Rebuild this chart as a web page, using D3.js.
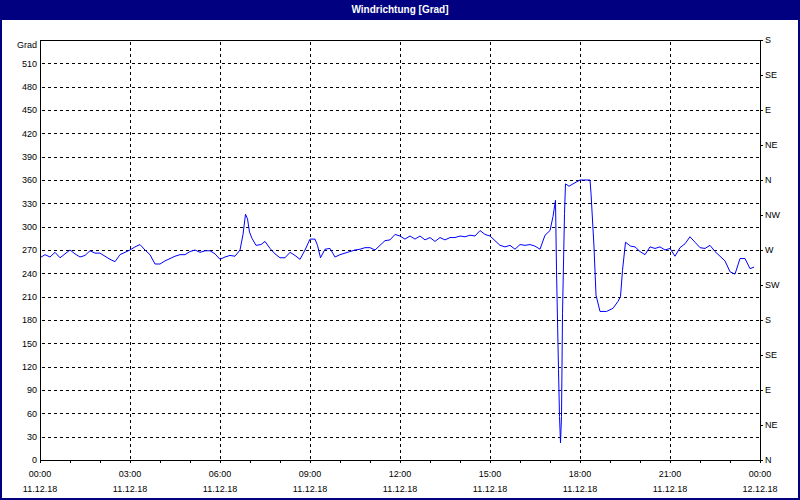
<!DOCTYPE html>
<html>
<head>
<meta charset="utf-8">
<script src="https://cdn.jsdelivr.net/npm/d3@7"></script>
<style>
  body { margin: 0; background: #fff; }
  svg text { font-family: "Liberation Sans", Arial, sans-serif; font-size: 9px; fill: #000; }
</style>
</head>
<body>
<div id="chart"></div>
<script>
// wind direction readings, minutes after 00:00 on 11.12.18
var minutes = [
  0, 10, 20, 30, 40, 50, 60, 70, 80, 90, 100, 110, 120, 130, 140, 150, 160, 170,
  180, 190, 200, 210, 220, 230, 240, 250, 260, 270, 280, 290, 300, 310, 320, 330,
  340, 350, 360, 370, 380, 390, 400, 406, 411, 415, 419, 424, 432, 442, 450, 460,
  470, 480, 490, 500, 510, 520, 530, 540, 550, 555, 561, 570, 580, 590, 600, 610,
  620, 630, 640, 650, 660, 670, 680, 690, 700, 710, 720, 730, 740, 750, 760, 770,
  780, 790, 800, 810, 820, 830, 840, 850, 860, 870, 880, 890, 900, 910, 920, 930,
  940, 950, 960, 970, 980, 990, 1000, 1010, 1020, 1026, 1031, 1033, 1037, 1039,
  1041, 1043, 1045, 1049, 1051, 1058, 1066, 1080, 1100, 1102, 1108, 1112, 1120,
  1133, 1146, 1156, 1161, 1165, 1171, 1181, 1190, 1200, 1210, 1220, 1230, 1240,
  1250, 1260, 1270, 1280, 1290, 1300, 1310, 1320, 1330, 1340, 1350, 1360, 1370,
  1380, 1390, 1400, 1410, 1420, 1428
];
var degrees = [
  260, 264, 261, 267, 260, 265, 270, 265, 261, 263, 269, 266, 266, 262, 258, 255, 264, 267,
  270, 274, 277, 270, 264, 252, 252, 256, 259, 262, 264, 264, 268, 270, 267, 269,
  269, 265, 258, 261, 263, 262, 270, 290, 316, 310, 293, 285, 276, 277, 281, 272,
  265, 260, 260, 267, 263, 258, 270, 284, 284, 276, 260, 271, 272, 261, 264, 266,
  268, 270, 271, 273, 273, 270, 276, 282, 283, 290, 288, 284, 288, 284, 288, 283,
  286, 281, 286, 283, 286, 286, 288, 287, 289, 288, 295, 290, 288, 282, 276, 274,
  276, 271, 277, 276, 277, 275, 271, 289, 295, 313, 334, 244, 116, 56,
  22, 56, 188, 317, 355, 352, 355, 360, 360, 343, 274, 212, 191,
  191, 195, 204, 210, 244, 280, 275, 274, 268, 264, 274, 272, 274,
  270, 272, 262, 273, 278, 287, 280, 273, 272, 276, 268, 262, 256,
  242, 239, 259, 259, 246, 248
];

// axis labels
var gradTicks = [0, 30, 60, 90, 120, 150, 180, 210, 240, 270, 300, 330, 360, 390, 420, 450, 480, 510];
var compassValues = [0, 45, 90, 135, 180, 225, 270, 315, 360, 405, 450, 495, 540];
var compassLabels = ["N", "NE", "E", "SE", "S", "SW", "W", "NW", "N", "NE", "E", "SE", "S"];
var timeTicks = [0, 180, 360, 540, 720, 900, 1080, 1260, 1440];
var timeLabels = ["00:00", "03:00", "06:00", "09:00", "12:00", "15:00", "18:00", "21:00", "00:00"];
var dateLabels = ["11.12.18", "11.12.18", "11.12.18", "11.12.18", "11.12.18", "11.12.18", "11.12.18", "11.12.18", "12.12.18"];

var W = 800, H = 500;
// plot frame (note: "top" is reserved on window, so use prefixed names)
var plotL = 40, plotR = 760, plotT = 40, plotB = 460;

var x = d3.scaleLinear().domain([0, 1440]).range([plotL, plotR]);
var y = d3.scaleLinear().domain([0, 540]).range([plotB, plotT]);

var svg = d3.select("#chart").append("svg")
  .attr("width", W)
  .attr("height", H);

svg.append("rect").attr("width", W).attr("height", H).attr("fill", "#fff");

// title bar
svg.append("rect")
  .attr("x", 0).attr("y", 0)
  .attr("width", W).attr("height", 20)
  .attr("fill", "#000080");
svg.append("text")
  .attr("x", W / 2).attr("y", 13)
  .attr("text-anchor", "middle")
  .style("font-size", "10px")
  .style("font-weight", "bold")
  .style("fill", "#fff")
  .text("Windrichtung [Grad]");

// window frame
svg.append("rect")
  .attr("x", 1).attr("y", 1)
  .attr("width", W - 2).attr("height", H - 2)
  .attr("fill", "none")
  .attr("stroke", "#000080")
  .attr("stroke-width", 2);

// dashed grid
var grid = svg.append("g")
  .attr("stroke", "#000")
  .attr("stroke-dasharray", "3,3")
  .attr("shape-rendering", "crispEdges");
grid.selectAll(".hgrid")
  .data(gradTicks.filter(function(d) { return d > 0; }))
  .enter().append("line")
    .attr("x1", plotL + 2).attr("x2", plotR)
    .attr("y1", function(d) { return Math.round(y(d)) + 0.5; })
    .attr("y2", function(d) { return Math.round(y(d)) + 0.5; });
grid.selectAll(".vgrid")
  .data(timeTicks.slice(1, -1))
  .enter().append("line")
    .attr("y1", plotT + 2).attr("y2", plotB)
    .attr("x1", function(d) { return Math.round(x(d)) + 0.5; })
    .attr("x2", function(d) { return Math.round(x(d)) + 0.5; });

// the wind direction line
var valueline = d3.line()
  .x(function(d) { return x(d[0]); })
  .y(function(d) { return y(d[1]); });
var data = minutes.map(function(m, i) { return [m, degrees[i]]; });
svg.append("path")
  .datum(data)
  .attr("fill", "none")
  .attr("stroke", "#0000ff")
  .attr("stroke-width", 1)
  .attr("d", valueline);

// top border
svg.append("line")
  .attr("x1", plotL).attr("x2", plotR + 1)
  .attr("y1", plotT + 0.5).attr("y2", plotT + 0.5)
  .attr("stroke", "#000")
  .attr("shape-rendering", "crispEdges");

// left axis (degrees)
svg.append("g")
  .attr("transform", "translate(" + plotL + ",0)")
  .attr("shape-rendering", "crispEdges")
  .call(d3.axisLeft(y).tickValues(gradTicks).tickSize(0).tickPadding(3).tickSizeOuter(0));

svg.append("text")
  .attr("x", 37).attr("y", 48)
  .attr("text-anchor", "end")
  .text("Grad");

// right axis (compass)
svg.append("g")
  .attr("transform", "translate(" + plotR + ",0)")
  .attr("shape-rendering", "crispEdges")
  .call(d3.axisRight(y).tickValues(compassValues)
    .tickFormat(function(d, i) { return compassLabels[i]; })
    .tickSize(3).tickPadding(2).tickSizeOuter(0));

// bottom axis, a tick every hour
svg.append("g")
  .attr("transform", "translate(0," + plotB + ")")
  .attr("shape-rendering", "crispEdges")
  .call(d3.axisBottom(x).tickValues(d3.range(0, 1441, 60)).tickSize(3).tickFormat("").tickSizeOuter(0));

var xl = svg.append("g").attr("text-anchor", "middle");
xl.selectAll(".time")
  .data(timeTicks)
  .enter().append("text")
    .attr("x", function(d) { return x(d); })
    .attr("y", 477)
    .text(function(d, i) { return timeLabels[i]; });
xl.selectAll(".date")
  .data(timeTicks)
  .enter().append("text")
    .attr("x", function(d) { return x(d); })
    .attr("y", 492)
    .text(function(d, i) { return dateLabels[i]; });
</script>
</body>
</html>
